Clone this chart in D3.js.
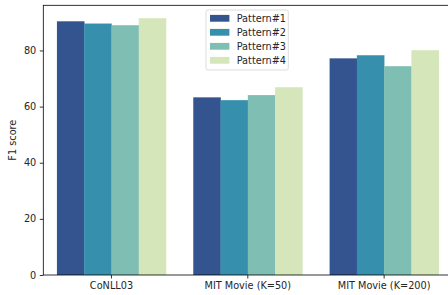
<!DOCTYPE html>
<html>
<head>
<meta charset="utf-8">
<script src="https://cdn.jsdelivr.net/npm/d3@7"></script>
<style>
  body { margin: 0; background: #fff; }
  svg { display: block; font-family: "DejaVu Sans", sans-serif; }
</style>
</head>
<body>
<div id="chart"></div>
<script>
// data
let categories = ['CoNLL03', 'MIT Movie (K=50)', 'MIT Movie (K=200)'];
let patterns = ['Pattern#1', 'Pattern#2', 'Pattern#3', 'Pattern#4'];
let pattern1 = [90.4, 63.3, 77.2];
let pattern2 = [89.6, 62.3, 78.3];
let pattern3 = [89.0, 64.1, 74.4];
let pattern4 = [91.5, 66.9, 80.1];
let yTicks = [0, 20, 40, 60, 80];

let seriesValues = [pattern1, pattern2, pattern3, pattern4];

let width = 448, height = 295;
let margin = {top: 5.3, left: 43.3, bottom: 275, right: 452.3};
let fontSize = 9.72;

let color = d3.scaleOrdinal()
  .domain(patterns)
  .range(['#33548f', '#378fae', '#7fbeb3', '#d5e6bb']);

let x = d3.scaleBand()
  .domain(categories)
  .range([margin.left, margin.right])
  .paddingInner(0.2)
  .paddingOuter(0.1);

let xInner = d3.scaleBand()
  .domain(patterns)
  .range([0, x.bandwidth()])
  .padding(0);

let y = d3.scaleLinear()
  .domain([0, 96.1])
  .range([margin.bottom, margin.top]);

let svg = d3.select('#chart').append('svg')
  .attr('width', width)
  .attr('height', height);

// bars
let rows = [];
categories.forEach((c, i) => {
  patterns.forEach((p, j) => {
    rows.push({cat: c, pat: p, value: seriesValues[j][i]});
  });
});

svg.append('g')
  .selectAll('rect')
  .data(rows)
  .enter().append('rect')
    .attr('x', d => x(d.cat) + xInner(d.pat))
    .attr('width', xInner.bandwidth() + 0.3)
    .attr('y', d => y(d.value))
    .attr('height', d => y(0) - y(d.value))
    .style('fill', d => color(d.pat));

// axes
let yAxis = d3.axisLeft(y)
  .tickValues(yTicks)
  .tickSize(3.5)
  .tickPadding(3.5)
  .tickFormat(d3.format('d'));

let xAxis = d3.axisBottom(x)
  .tickSize(3.5)
  .tickPadding(3.5);

let gy = svg.append('g')
  .attr('transform', `translate(${margin.left},0)`)
  .call(yAxis);

let gx = svg.append('g')
  .attr('transform', `translate(0,${margin.bottom})`)
  .call(xAxis);

[gx, gy].forEach(g => {
  g.select('.domain').remove();
  g.selectAll('.tick line').attr('stroke', '#000').attr('stroke-width', 0.8);
  g.selectAll('.tick text')
    .attr('fill', '#262626')
    .style('font-size', fontSize + 'px')
    .style('font-family', '"DejaVu Sans", sans-serif');
});

// spines
svg.append('rect')
  .attr('x', margin.left)
  .attr('y', margin.top)
  .attr('width', margin.right - margin.left)
  .attr('height', margin.bottom - margin.top)
  .attr('fill', 'none')
  .attr('stroke', '#000')
  .attr('stroke-width', 0.8);

// y label
svg.append('text')
  .attr('transform', `translate(16,${(margin.top + margin.bottom) / 2}) rotate(-90)`)
  .attr('text-anchor', 'middle')
  .attr('fill', '#262626')
  .style('font-size', fontSize + 'px')
  .text('F1 score');

// legend
let legendG = svg.append('g').attr('transform', 'translate(206,10)');

legendG.append('rect')
  .attr('width', 82.3)
  .attr('height', 60)
  .attr('rx', 2)
  .attr('fill', 'rgba(255,255,255,0.8)')
  .attr('stroke', '#d4d4d4')
  .attr('stroke-width', 0.8);

let legend = legendG.selectAll('.legend')
  .data(patterns)
  .enter().append('g')
    .attr('class', 'legend')
    .attr('transform', (d, i) => `translate(0,${8.3 + i * 14})`);

legend.append('rect')
  .attr('x', 4)
  .attr('y', -3.4)
  .attr('width', 19.4)
  .attr('height', 6.8)
  .style('fill', color);

legend.append('text')
  .attr('x', 30.7)
  .attr('y', 3.5)
  .attr('fill', '#262626')
  .style('font-size', fontSize + 'px')
  .text(d => d);
</script>
</body>
</html>
